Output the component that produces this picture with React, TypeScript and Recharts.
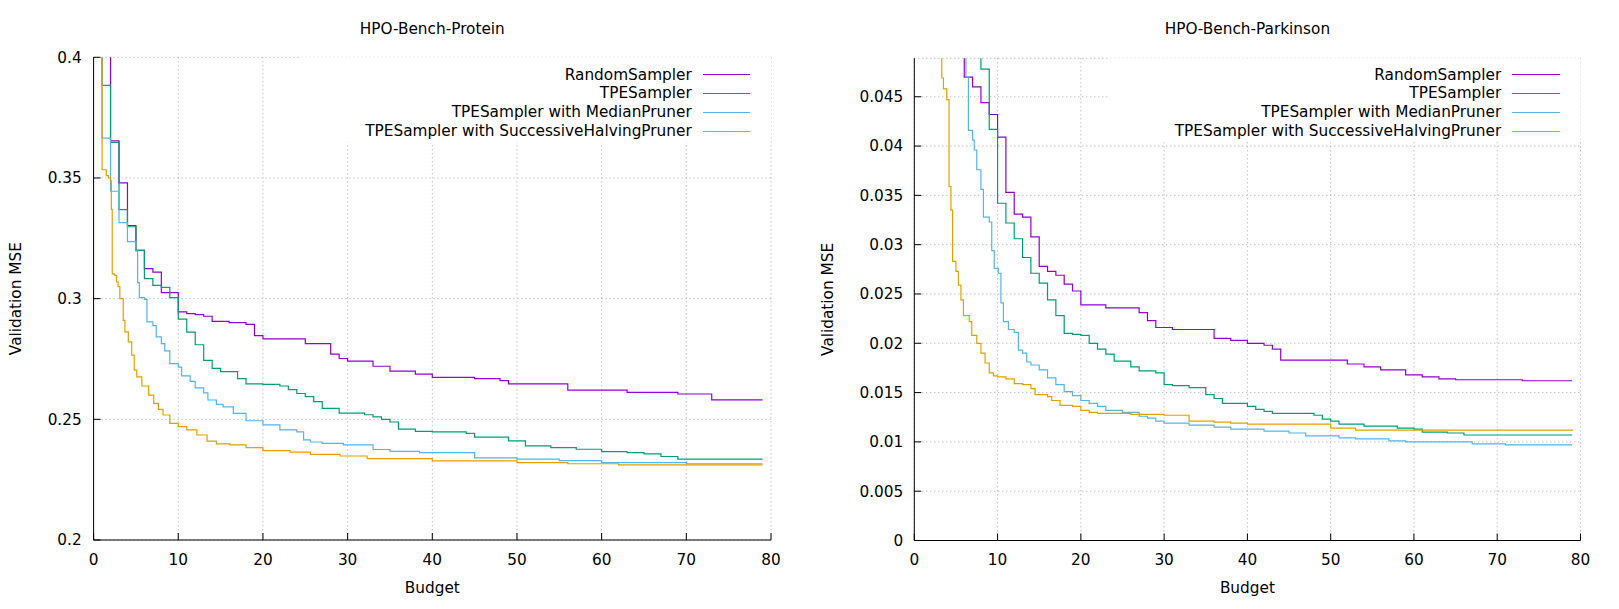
import React from 'react'
import {
  LineChart, Line, XAxis, YAxis, CartesianGrid, Legend, ReferenceArea,
} from 'recharts'

// best validation MSE so far, [budget, value] pairs
const proteinRandom = [
  [1, 0.45], [2, 0.3654], [3, 0.348], [4, 0.3303], [5, 0.32], [6, 0.3124], [7, 0.311],
  [8, 0.3025], [10, 0.2945], [11, 0.2938], [12, 0.2934], [13, 0.2927], [14, 0.2906],
  [16, 0.2901], [18, 0.2893], [19, 0.2847], [20, 0.2833], [25, 0.2814], [28, 0.277],
  [29, 0.2752], [30, 0.2741], [33, 0.272], [35, 0.27], [38, 0.2687], [40, 0.2674],
  [45, 0.2669], [48, 0.266], [49, 0.2647], [56, 0.2621], [63, 0.2612], [69, 0.2605],
  [73, 0.2581], [79, 0.2581],
]
const proteinTpe = [
  [0.5, 0.45], [1, 0.3884], [2, 0.3647], [3, 0.3369], [4, 0.3298], [5, 0.32], [6, 0.3083],
  [7, 0.3055], [8, 0.3047], [9, 0.3004], [10, 0.2915], [11, 0.2861], [12, 0.2809],
  [13, 0.2744], [14, 0.2711], [15, 0.2698], [17, 0.2669], [18, 0.2647], [20, 0.2645],
  [22, 0.2638], [23, 0.2623], [24, 0.2607], [25, 0.2594], [26, 0.2573], [27, 0.2545],
  [29, 0.2526], [32, 0.2519], [33, 0.251], [34, 0.25], [35, 0.2489], [36, 0.2459],
  [38, 0.245], [40, 0.2448], [44, 0.2442], [45, 0.2426], [49, 0.2411], [51, 0.239],
  [54, 0.2383], [57, 0.2376], [60, 0.2366], [63, 0.2362], [65, 0.2357], [67, 0.2346],
  [69, 0.2335], [79, 0.2335],
]
const proteinMedian = [
  [0.5, 0.45], [1, 0.3665], [2, 0.3445], [3, 0.3315], [4, 0.3236], [5, 0.3197], [5.2, 0.3066],
  [5.4, 0.3004], [6, 0.2997], [6.3, 0.2904], [7, 0.2888], [7.4, 0.2842], [8, 0.2814],
  [8.4, 0.2784], [9, 0.2731], [10, 0.2716], [10.4, 0.268], [11.4, 0.2657], [12, 0.263],
  [13, 0.261], [13.5, 0.258], [14.5, 0.2562], [15.3, 0.2552], [16.5, 0.2525], [18, 0.2494],
  [20, 0.2477], [22, 0.2456], [24, 0.2448], [24.8, 0.2415], [25.6, 0.2406], [27, 0.24],
  [29.5, 0.2394], [33, 0.2375], [35, 0.2367], [38.5, 0.2362], [45, 0.234], [50, 0.2335],
  [55, 0.2329], [60, 0.2321], [70, 0.2316], [79, 0.2316],
]
const proteinHalving = [
  [0.5, 0.45], [1, 0.3534], [1.5, 0.351], [1.75, 0.35], [2, 0.3487], [2.1, 0.337], [2.2, 0.3103],
  [2.5, 0.3096], [2.7, 0.3069], [2.9, 0.305], [3.1, 0.3], [3.5, 0.291], [3.7, 0.2862],
  [4.1, 0.2821], [4.5, 0.2766], [4.8, 0.2704], [5.1, 0.2676], [5.7, 0.2638], [6.5, 0.26],
  [7.1, 0.2566], [7.65, 0.2541], [8.2, 0.2518], [9, 0.2483], [10, 0.247], [11, 0.2456],
  [12.2, 0.2435], [13.4, 0.241], [14.5, 0.2398], [16.1, 0.2394], [18, 0.2383], [20, 0.237],
  [23.2, 0.2364], [25.6, 0.2355], [29.1, 0.2348], [32.3, 0.2337], [40, 0.2328], [50, 0.2321],
  [56, 0.2316], [62, 0.2311], [79, 0.2311],
]

const parkinsonRandom = [
  [5, 0.06], [6, 0.047], [7, 0.046], [8, 0.0444], [9, 0.0432], [10, 0.0409], [11, 0.0353],
  [12, 0.0331], [13, 0.0328], [14, 0.0308], [15, 0.0278], [16, 0.0273], [17, 0.0269],
  [18, 0.026], [19, 0.0253], [20, 0.0239], [23, 0.0236], [27, 0.0231], [28, 0.0223],
  [29, 0.0216], [31, 0.0214], [36, 0.0205], [38, 0.0203], [40, 0.02], [42, 0.0198],
  [43, 0.0194], [44, 0.0183], [52, 0.0179], [54, 0.0176], [56, 0.0173], [59, 0.0168],
  [61, 0.0166], [63, 0.0164], [65, 0.0163], [73, 0.0162], [79, 0.0162],
]
const parkinsonTpe = [
  [7, 0.06], [8, 0.0478], [9, 0.0417], [10, 0.0342], [11, 0.0322], [12, 0.0306], [13, 0.0287],
  [14, 0.0271], [15, 0.0261], [16, 0.0244], [17, 0.0228], [18, 0.021], [19, 0.0209],
  [20, 0.0208], [21, 0.02], [22, 0.0194], [23, 0.0189], [24, 0.0182], [26, 0.0176],
  [27, 0.0172], [29, 0.017], [30, 0.0158], [31, 0.0157], [33, 0.0155], [35, 0.0148],
  [36, 0.0144], [37, 0.0139], [40, 0.0136], [41, 0.0133], [42, 0.0131], [43, 0.0129],
  [48, 0.0127], [49, 0.0123], [50, 0.0121], [51, 0.0118], [54, 0.0116], [58, 0.0114],
  [60, 0.0113], [61, 0.011], [64, 0.0109], [66, 0.0107], [79, 0.0107],
]
const parkinsonMedian = [
  [5, 0.06], [6.2, 0.047], [6.5, 0.0416], [7, 0.0406], [7.2, 0.0396], [7.5, 0.0376], [8, 0.0356],
  [8.3, 0.0328], [9, 0.0323], [9.3, 0.0294], [9.6, 0.0276], [10.1, 0.0271], [10.4, 0.0241],
  [10.7, 0.0222], [11.3, 0.0214], [12, 0.0211], [12.5, 0.0193], [13, 0.019], [13.5, 0.0181],
  [14, 0.0178], [15, 0.0173], [16, 0.0165], [17, 0.0158], [18, 0.0151], [19, 0.0147],
  [20, 0.0142], [21, 0.0139], [22, 0.0136], [23, 0.0132], [25, 0.013], [27, 0.0126],
  [28, 0.0124], [29, 0.0121], [30, 0.0119], [33, 0.0117], [36, 0.0115], [38, 0.0113],
  [42, 0.0111], [45, 0.0109], [47, 0.0106], [51, 0.0104], [53, 0.0103], [57, 0.0101],
  [59, 0.01], [67, 0.0098], [71, 0.0097], [79, 0.0097],
]
const parkinsonHalving = [
  [3, 0.06], [3.3, 0.0469], [3.5, 0.0458], [3.9, 0.0447], [4.17, 0.0359], [4.4, 0.0335],
  [4.6, 0.0283], [5, 0.0273], [5.3, 0.0259], [5.6, 0.0244], [5.9, 0.0228], [6.6, 0.0222],
  [6.9, 0.0208], [7.5, 0.02], [8, 0.019], [8.5, 0.018], [9, 0.017], [9.5, 0.0167], [10, 0.0166],
  [11, 0.0164], [12, 0.0159], [13, 0.0158], [14, 0.0154], [14.5, 0.0148], [16, 0.0146],
  [16.5, 0.0142], [17.5, 0.0137], [19, 0.0136], [20, 0.0132], [21, 0.013], [22, 0.0129],
  [26, 0.0128], [30, 0.0127], [33, 0.0121], [36, 0.012], [38, 0.0119], [40, 0.0118],
  [50, 0.0114], [53, 0.0112], [79, 0.0111],
]

const budgetTicks = [0, 10, 20, 30, 40, 50, 60, 70, 80]
const proteinTicks = [0.2, 0.25, 0.3, 0.35, 0.4]
const parkinsonTicks = [0, 0.005, 0.01, 0.015, 0.02, 0.025, 0.03, 0.035, 0.04, 0.045]

const seriesNames = [
  'RandomSampler',
  'TPESampler',
  'TPESampler with MedianPruner',
  'TPESampler with SuccessiveHalvingPruner',
]
const seriesColors = ['#9400d3', '#009e73', '#56b4e9', '#e69f00']

const FONT = '"DejaVu Sans", sans-serif'
const FS = 15.3

const toRows = (pts: number[][]) => pts.map(([b, v]) => ({ b, v }))

const KeyContent = ({ payload }: any) => (
  <div style={{ fontFamily: FONT, fontSize: FS, color: '#000' }}>
    {(payload || []).map((p: any) => (
      <div
        key={p.value}
        style={{ display: 'flex', justifyContent: 'flex-end', alignItems: 'center', height: 18.9 }}
      >
        <span style={{ whiteSpace: 'nowrap', lineHeight: '18.9px' }}>{p.value}</span>
        <span
          style={{ display: 'inline-block', width: 47.3, marginLeft: 11, borderTop: `1.3px solid ${p.color}` }}
        />
      </div>
    ))}
  </div>
)

interface PanelProps {
  title: string
  series: number[][][]
  yDomain: [number, number]
  yTicks: number[]
  width: number
  axisWidth: number
  right: number
  top: number
  xAxisHeight: number
  yTickMargin: number
  xTickMargin: number
  yLabelX: number
  keyFrom: [number, number]
}

function Panel(p: PanelProps) {
  const yLabel = (props: any) => {
    const vb = props.viewBox
    const cy = vb.y + vb.height / 2
    return (
      <text
        x={p.yLabelX}
        y={cy}
        transform={`rotate(-90 ${p.yLabelX} ${cy})`}
        textAnchor="middle"
        fill="#000"
        fontSize={FS}
        fontFamily={FONT}
      >
        Validation MSE
      </text>
    )
  }

  const plotWidth = p.width - p.axisWidth - p.right

  return (
    <div style={{ position: 'relative', width: p.width, height: 609 }}>
      <div
        style={{
          position: 'absolute', top: 20.8, left: p.axisWidth, width: plotWidth,
          textAlign: 'center', fontSize: FS, lineHeight: '17.8px', color: '#000', whiteSpace: 'nowrap',
        }}
      >
        {p.title}
      </div>
      <LineChart
        width={p.width}
        height={609}
        margin={{ top: p.top, right: p.right, left: 0, bottom: 0 }}
        style={{ fontFamily: FONT }}
      >
        <CartesianGrid
          xAxisId="main"
          yAxisId="main"
          stroke="#a8a8a8"
          strokeDasharray="1 3"
        />
        <ReferenceArea
          xAxisId="main"
          yAxisId="main"
          x1={p.keyFrom[0]}
          x2={80}
          y1={p.keyFrom[1]}
          y2={p.yDomain[1]}
          fill="#ffffff"
          fillOpacity={1}
          stroke="none"
        />
        <XAxis
          xAxisId="main"
          dataKey="b"
          type="number"
          domain={[0, 80]}
          ticks={budgetTicks}
          allowDataOverflow
          height={p.xAxisHeight}
          tickSize={-7}
          tickMargin={p.xTickMargin}
          stroke="#000"
          tick={{ fill: '#000', fontSize: FS }}
          label={{ value: 'Budget', position: 'insideBottom', offset: 16.3, fill: '#000', fontSize: FS }}
        />
        <XAxis
          xAxisId="top"
          orientation="top"
          type="number"
          domain={[0, 80]}
          ticks={budgetTicks}
          allowDataOverflow
          height={0}
          tickSize={-7}
          stroke="#000"
          tick={false}
        />
        <YAxis
          yAxisId="main"
          type="number"
          domain={p.yDomain}
          ticks={p.yTicks}
          allowDataOverflow
          width={p.axisWidth}
          tickSize={-7}
          tickMargin={p.yTickMargin}
          stroke="#000"
          tick={{ fill: '#000', fontSize: FS }}
          label={{ content: yLabel }}
        />
        <YAxis
          yAxisId="mirror"
          orientation="right"
          type="number"
          domain={p.yDomain}
          ticks={p.yTicks}
          allowDataOverflow
          width={0}
          tickSize={-7}
          stroke="#000"
          tick={false}
        />
        {p.series.map((pts, i) => (
          <Line
            key={seriesNames[i]}
            xAxisId="main"
            yAxisId="main"
            data={toRows(pts)}
            dataKey="v"
            name={seriesNames[i]}
            type="stepAfter"
            stroke={seriesColors[i]}
            strokeWidth={1.2}
            dot={false}
            activeDot={false}
            isAnimationActive={false}
          />
        ))}
        <Legend
          layout="vertical"
          align="center"
          verticalAlign="middle"
          content={<KeyContent />}
          wrapperStyle={{ position: 'absolute', top: 65.5, left: p.width - p.right - 21 - 450, width: 450, height: 76 }}
        />
      </LineChart>
    </div>
  )
}

export default function App() {
  return (
    <div
      style={{
        position: 'fixed', left: 0, top: 0, width: 1619, height: 609,
        background: '#fff', display: 'flex', fontFamily: FONT,
      }}
    >
      <Panel
        title="HPO-Bench-Protein"
        series={[proteinRandom, proteinTpe, proteinMedian, proteinHalving]}
        yDomain={[0.2, 0.4]}
        yTicks={proteinTicks}
        width={810}
        axisWidth={93.6}
        right={39}
        top={57.3}
        xAxisHeight={69}
        yTickMargin={18.9}
        xTickMargin={21.1}
        yLabelX={20.7}
        keyFrom={[24.25, 0.3649]}
      />
      <Panel
        title="HPO-Bench-Parkinson"
        series={[parkinsonRandom, parkinsonTpe, parkinsonMedian, parkinsonHalving]}
        yDomain={[0, 0.0489]}
        yTicks={parkinsonTicks}
        width={809}
        axisWidth={104.3}
        right={38.5}
        top={58.3}
        xAxisHeight={68.5}
        yTickMargin={18}
        xTickMargin={20.6}
        yLabelX={23}
        keyFrom={[23.44, 0.04046]}
      />
    </div>
  )
}
